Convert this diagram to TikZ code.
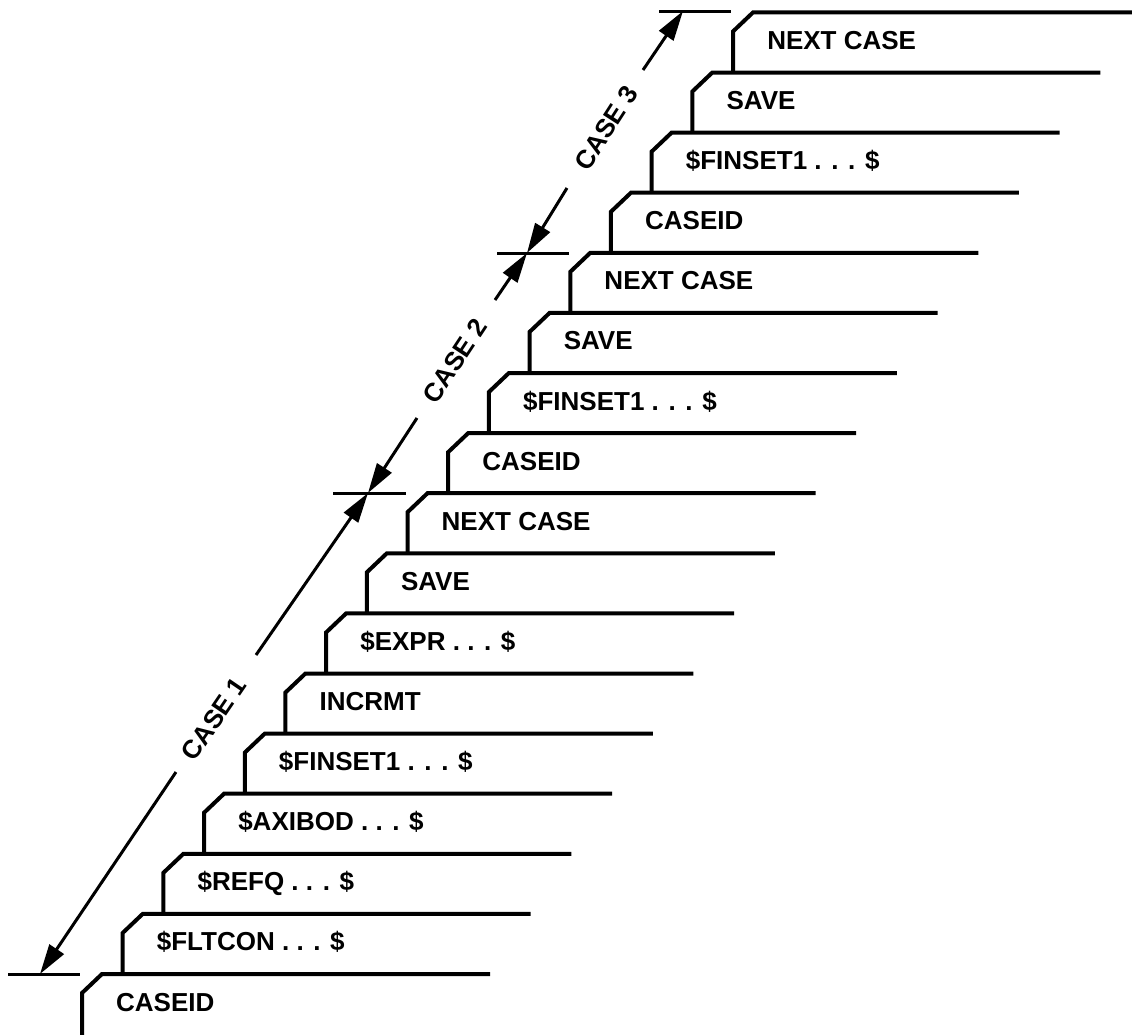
\documentclass[tikz,border=0pt]{standalone}
\usepackage{fontspec}
\setmainfont{Liberation Sans}
\usetikzlibrary{arrows.meta}
\begin{document}
\begin{tikzpicture}[x=1pt,y=-1pt,
  stair/.style={line width=4pt, line join=miter},
  lbl/.style={font=\fontsize{26}{30}\selectfont\bfseries, anchor=base west, inner sep=0pt},
  dim/.style={line width=3pt, -{Triangle[length=30pt,width=17pt]}},
  tickline/.style={line width=3pt},
  caselbl/.style={font=\fontsize{26}{30}\selectfont\bfseries, inner sep=0pt}]
\useasboundingbox (0,0) rectangle (1132,1034);
% staircase
\foreach \i/\t in {0/CASEID, 1/\$FLTCON . . . \$, 2/\$REFQ . . . \$, 3/\$AXIBOD . . . \$,
  4/\$FINSET1 . . . \$, 5/INCRMT, 6/\$EXPR . . . \$, 7/SAVE, 8/NEXT CASE,
  9/CASEID, 10/\$FINSET1 . . . \$, 11/SAVE, 12/NEXT CASE,
  13/CASEID, 14/\$FINSET1 . . . \$, 15/SAVE, 16/NEXT CASE}{
  \pgfmathsetmacro\xx{82+40.69*\i}
  \pgfmathsetmacro\yy{974-60.1*\i}
  \pgfmathsetmacro\yp{ifthenelse(\i==0,1040,\yy+60.1)}
  \pgfmathsetmacro\xr{ifthenelse(\i==16,1136,\xx+408)}
  \draw[stair] (\xx,\yp) -- (\xx,\yy+19) -- (\xx+20,\yy) -- (\xr,\yy);
  \node[lbl] (t\i) at (\xx+34,\yy+37) {\t};
}
% dimension marks
\coordinate (A) at (40,974);
\coordinate (B) at (368,493);
\coordinate (C) at (527,253);
\coordinate (D) at (683,11);
\draw[tickline] (8,974) -- (80,974);
\draw[tickline] (333,493) -- (406,493);
\draw[tickline] (497,253) -- (569,253);
\draw[tickline] (659,11) -- (731,11);
% case 1
\coordinate (a1) at (176,772);
\coordinate (a2) at (256,655);
\draw[dim] (a1) -- (A);
\draw[dim] (a2) -- (B);
\node[caselbl, rotate=55.7] (c1) at (214,719) {CASE 1};
% case 2
\coordinate (b1) at (417,418);
\coordinate (b2) at (495,300);
\draw[dim] (b1) -- (B);
\draw[dim] (b2) -- (C);
\node[caselbl, rotate=56.5] (c2) at (455,361) {CASE 2};
% case 3
\coordinate (d1) at (567,188);
\coordinate (d2) at (643,70);
\draw[dim] (d1) -- (C);
\draw[dim] (d2) -- (D);
\node[caselbl, rotate=57.2] (c3) at (606,128) {CASE 3};
\end{tikzpicture}
\end{document}
